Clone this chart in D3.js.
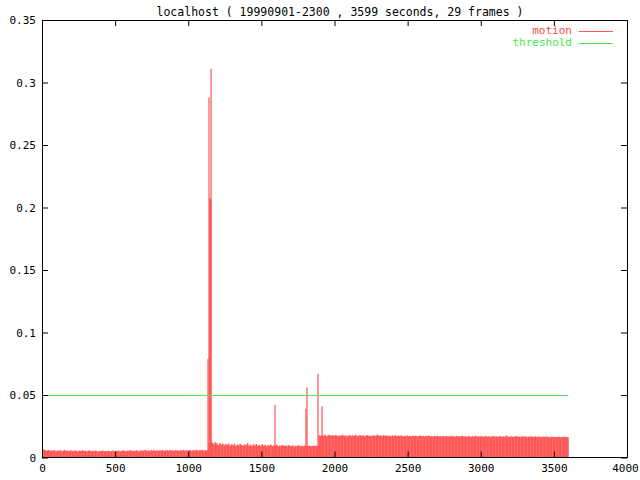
<!DOCTYPE html>
<html><head><meta charset="utf-8">
<script src="https://cdn.jsdelivr.net/npm/d3@7"></script>
<style>body{margin:0;background:#fff}svg{display:block}text{font-family:"DejaVu Sans Mono",monospace;font-size:11px}</style>
</head><body><svg id="c" width="640" height="480"></svg>
<script>
const title = "localhost ( 19990901-2300 , 3599 seconds, 29 frames )";
const binSeconds = 10;
// motion level per 10-second bin (t = 0 .. 1130)
const motionEarly = [
0.0066,0.0062,0.0058,0.0055,0.0060,0.0052,0.0057,0.0054,0.0059,0.0050,
0.0056,0.0053,0.0058,0.0049,0.0055,0.0060,0.0052,0.0056,0.0051,0.0057,
0.0054,0.0050,0.0058,0.0053,0.0049,0.0056,0.0052,0.0059,0.0051,0.0055,
0.0048,0.0054,0.0057,0.0050,0.0053,0.0049,0.0056,0.0052,0.0047,0.0054,
0.0051,0.0056,0.0049,0.0053,0.0050,0.0055,0.0048,0.0052,0.0057,0.0050,
0.0054,0.0051,0.0055,0.0049,0.0053,0.0058,0.0052,0.0050,0.0056,0.0053,
0.0059,0.0051,0.0055,0.0052,0.0057,0.0054,0.0050,0.0058,0.0053,0.0056,
0.0060,0.0054,0.0057,0.0052,0.0059,0.0055,0.0061,0.0053,0.0057,0.0054,
0.0058,0.0055,0.0060,0.0053,0.0057,0.0059,0.0054,0.0061,0.0056,0.0058,
0.0055,0.0060,0.0057,0.0053,0.0059,0.0056,0.0061,0.0055,0.0058,0.0054,
0.0060,0.0057,0.0055,0.0059,0.0056,0.0062,0.0054,0.0058,0.0057,0.0060,
0.0055,0.0059,0.0056,0.0058];
// t = 1140 .. 1880
const motionMid = [
0.0110,0.0125,0.0118,0.0105,0.0122,0.0112,0.0098,0.0115,0.0104,0.0110,
0.0096,0.0108,0.0101,0.0112,0.0094,0.0106,0.0099,0.0110,0.0092,0.0103,
0.0097,0.0109,0.0100,0.0093,0.0105,0.0098,0.0115,0.0095,0.0102,0.0091,
0.0104,0.0097,0.0108,0.0094,0.0100,0.0092,0.0106,0.0096,0.0101,0.0090,
0.0099,0.0095,0.0103,0.0091,0.0098,0.0094,0.0102,0.0089,0.0097,0.0093,
0.0100,0.0092,0.0096,0.0090,0.0099,0.0094,0.0091,0.0097,0.0088,0.0095,
0.0092,0.0098,0.0090,0.0094,0.0089,0.0096,0.0093,0.0091,0.0095,0.0090,
0.0093,0.0094,0.0092,0.0095,0.0093];
// t = 1890 .. 3590
const motionLate = [
0.0178,0.0172,0.0180,0.0175,0.0183,0.0170,0.0177,0.0181,0.0174,0.0179,
0.0172,0.0180,0.0176,0.0171,0.0178,0.0174,0.0182,0.0173,0.0177,0.0170,
0.0176,0.0179,0.0172,0.0177,0.0174,0.0181,0.0171,0.0175,0.0178,0.0173,
0.0177,0.0170,0.0176,0.0179,0.0172,0.0175,0.0171,0.0178,0.0174,0.0177,
0.0182,0.0173,0.0176,0.0171,0.0179,0.0174,0.0177,0.0172,0.0175,0.0170,
0.0176,0.0173,0.0178,0.0171,0.0175,0.0172,0.0177,0.0169,0.0174,0.0171,
0.0176,0.0170,0.0173,0.0168,0.0175,0.0171,0.0174,0.0169,0.0172,0.0176,
0.0170,0.0173,0.0168,0.0174,0.0171,0.0175,0.0169,0.0172,0.0167,0.0173,
0.0170,0.0174,0.0168,0.0171,0.0169,0.0173,0.0167,0.0172,0.0170,0.0168,
0.0174,0.0169,0.0171,0.0167,0.0172,0.0170,0.0166,0.0171,0.0173,0.0168,
0.0170,0.0167,0.0172,0.0169,0.0166,0.0171,0.0168,0.0174,0.0167,0.0170,
0.0168,0.0172,0.0166,0.0169,0.0171,0.0167,0.0170,0.0165,0.0169,0.0172,
0.0167,0.0170,0.0166,0.0168,0.0171,0.0165,0.0169,0.0167,0.0176,0.0168,
0.0166,0.0170,0.0167,0.0165,0.0169,0.0172,0.0166,0.0168,0.0165,0.0170,
0.0167,0.0169,0.0164,0.0168,0.0166,0.0170,0.0165,0.0167,0.0169,0.0164,
0.0168,0.0166,0.0163,0.0167,0.0165,0.0169,0.0164,0.0166,0.0162,0.0167,
0.0165,0.0163,0.0166,0.0164,0.0167,0.0162,0.0165,0.0163,0.0166,0.0164,
0.0163];
// isolated single-second spikes [second, value]
const spikeSeconds = [1135, 1142, 1147, 1150, 1153, 1156, 1593, 1805, 1812, 1887, 1915];
const spikeValues  = [0.079, 0.288, 0.207, 0.207, 0.207, 0.311, 0.042, 0.039, 0.056, 0.067, 0.041];
const threshold = 0.05;
const duration = 3599;
const xTicks = [0,500,1000,1500,2000,2500,3000,3500,4000];
const xTickLabels = ["0","500","1000","1500","2000","2500","3000","3500","4000"];
const yTicks = [0,0.05,0.1,0.15,0.2,0.25,0.3,0.35];
const yTickLabels = ["0","0.05","0.1","0.15","0.2","0.25","0.3","0.35"];
const legendNames = ["motion","threshold"];

const motion = motionEarly.concat(motionMid, motionLate).map((v,i)=>({t:i*binSeconds, v}));
const spikes = spikeSeconds.map((t,i)=>({t, v:spikeValues[i]}));

const L=42, R=627, T=20, B=457.5;
const RED="#ff5555", GREEN="#5ee05e";
const svg = d3.select("#c");
const x = d3.scaleLinear().domain([0,4000]).range([L,R]);
const y = d3.scaleLinear().domain([0,0.35]).range([B,T]);

// bars
svg.append("g").selectAll("rect").data(motion).join("rect")
  .attr("x", d=>x(d.t)).attr("width", d=>x(d.t+binSeconds)-x(d.t)+0.25)
  .attr("y", d=>y(d.v)).attr("height", d=>B-y(d.v)).attr("fill", RED);
svg.append("g").selectAll("rect").data(spikes).join("rect")
  .attr("x", d=>x(d.t)-0.6).attr("width", 1.2)
  .attr("y", d=>y(d.v)).attr("height", d=>B-y(d.v)).attr("fill", RED);

// threshold
svg.append("line").attr("x1",x(0)).attr("x2",x(duration))
  .attr("y1",Math.round(y(threshold))+0.5).attr("y2",Math.round(y(threshold))+0.5)
  .attr("stroke",GREEN).attr("stroke-width",1);

// axes: box with inward ticks on all sides
const tl = 6;
const axB = d3.axisBottom(x).tickValues(xTicks).tickSizeInner(-tl).tickSizeOuter(0).tickPadding(7).tickFormat((d,i)=>xTickLabels[i]);
const axT = d3.axisTop(x).tickValues(xTicks).tickSizeInner(-tl).tickSizeOuter(0).tickFormat("");
const axL = d3.axisLeft(y).tickValues(yTicks).tickSizeInner(-tl).tickSizeOuter(0).tickPadding(6).tickFormat((d,i)=>yTickLabels[i]);
const axR = d3.axisRight(y).tickValues(yTicks).tickSizeInner(-tl).tickSizeOuter(0).tickFormat("");
function style(g){g.selectAll(".domain").remove();g.selectAll("line").attr("stroke","#000");g.selectAll("text").attr("fill","#000").style("font-family","DejaVu Sans Mono, monospace").style("font-size","11px");}
const gB = svg.append("g").attr("transform",`translate(0,${B})`).call(axB).call(style);
gB.selectAll(".tick:last-of-type text").attr("dx", -2);
svg.append("g").attr("transform",`translate(0,${T})`).call(axT).call(style);
svg.append("g").attr("transform",`translate(${L},0)`).call(axL).call(style);
svg.append("g").attr("transform",`translate(${R},0)`).call(axR).call(style);
svg.append("rect").attr("x",L+0.5).attr("y",T+0.5).attr("width",R-L).attr("height",B-T-0.5)
  .attr("fill","none").attr("stroke","#000");

// title
svg.append("text").attr("x",340).attr("y",12).attr("text-anchor","middle")
  .attr("dominant-baseline","middle").style("font-size","11.5px").text(title);

// legend
const lg = svg.append("g");
[RED, GREEN].forEach((c,i)=>{
  const yy = 31 + i*12;
  lg.append("text").attr("x",572).attr("y",yy).attr("text-anchor","end").attr("dominant-baseline","middle")
    .attr("fill", i===0?"#ff4a4a":"#4ae84a").text(legendNames[i]);
  lg.append("line").attr("x1",579).attr("x2",613).attr("y1",yy+0.5).attr("y2",yy+0.5).attr("stroke",c);
});
</script></body></html>
